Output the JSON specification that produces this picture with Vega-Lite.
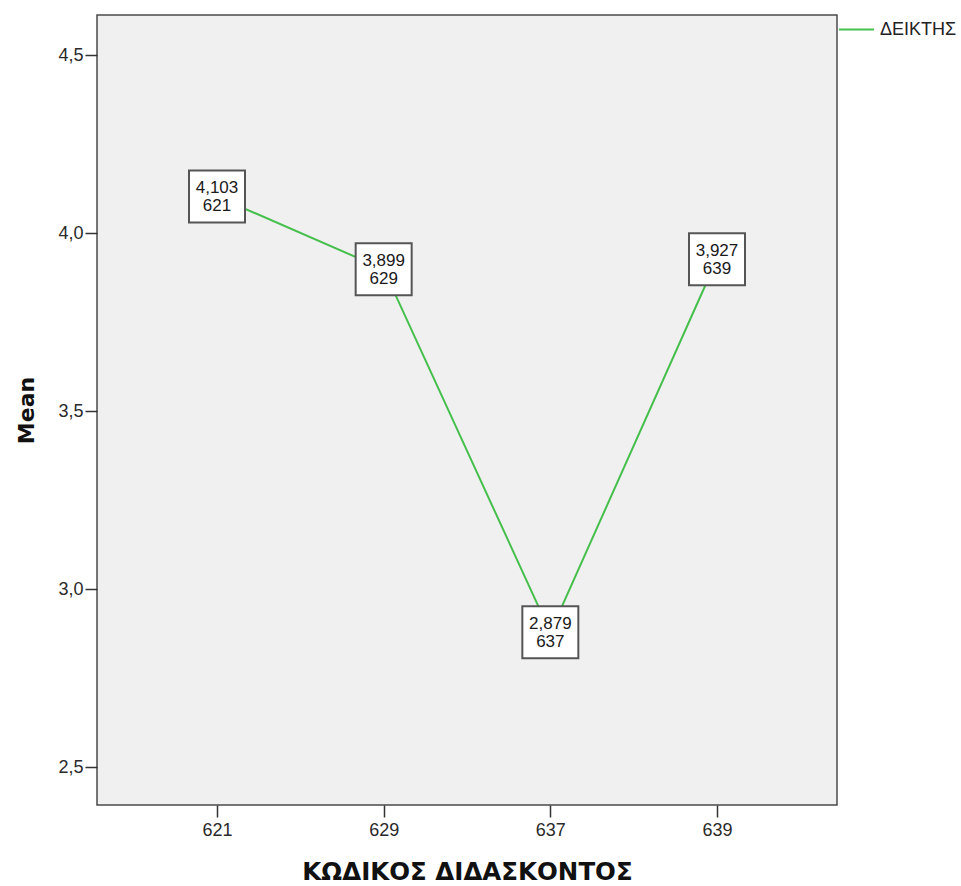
{
  "$schema": "https://vega.github.io/schema/vega-lite/v6.json",
  "autosize": {"type": "none"},
  "padding": {"left": 97, "top": 15, "right": 124, "bottom": 81},
  "width": 740,
  "height": 790,
  "background": "white",
  "config": {
    "locale": {"number": {"decimal": ",", "thousands": ".", "grouping": [3], "currency": ["", ""]}},
    "font": "Liberation Sans",
    "view": {"fill": "#f0f0f0", "stroke": "#4a4a4a", "strokeWidth": 1.5},
    "axis": {
      "grid": false,
      "domain": false,
      "ticks": true,
      "tickColor": "#333333",
      "tickWidth": 1.5,
      "tickSize": 12,
      "labelFont": "Liberation Sans",
      "labelFontSize": 18,
      "labelColor": "#2a2a2a",
      "titleFont": "DejaVu Sans",
      "titleFontSize": 22,
      "titleFontWeight": "bold",
      "titleColor": "#111111"
    }
  },
  "data": {
    "values": [
      {"code": "621", "mean": 4.103, "series": "ΔΕΙΚΤΗΣ"},
      {"code": "629", "mean": 3.899, "series": "ΔΕΙΚΤΗΣ"},
      {"code": "637", "mean": 2.879, "series": "ΔΕΙΚΤΗΣ"},
      {"code": "639", "mean": 3.927, "series": "ΔΕΙΚΤΗΣ"}
    ]
  },
  "encoding": {
    "x": {
      "field": "code",
      "type": "ordinal",
      "sort": null,
      "scale": {"type": "point", "padding": 0.72},
      "axis": {"title": "ΚΩΔΙΚΟΣ ΔΙΔΑΣΚΟΝΤΟΣ", "labelAngle": 0, "labelPadding": 4, "titlePadding": 21, "titleFontSize": 24.5}
    },
    "y": {
      "field": "mean",
      "type": "quantitative",
      "scale": {"domain": [2.394, 4.613], "nice": false, "zero": false},
      "axis": {"title": "Mean", "values": [2.5, 3, 3.5, 4, 4.5], "format": ".1f", "labelPadding": 2, "titlePadding": 19}
    }
  },
  "layer": [
    {
      "mark": {"type": "line", "strokeWidth": 2},
      "encoding": {
        "color": {
          "field": "series",
          "type": "nominal",
          "scale": {"range": ["#46bf4c"]},
          "legend": {
            "title": null,
            "orient": "right",
            "offset": 5,
            "padding": -4,
            "symbolType": "stroke",
            "symbolSize": 1225,
            "symbolStrokeWidth": 2,
            "labelFont": "Liberation Sans",
            "labelFontSize": 18,
            "labelColor": "#222222",
            "labelOffset": 5
          }
        }
      }
    },
    {
      "mark": {
        "type": "point",
        "shape": "M-1,-0.93H1V0.93H-1Z",
        "size": 3136,
        "filled": true,
        "fill": "white",
        "stroke": "#555555",
        "strokeWidth": 2,
        "opacity": 1
      }
    },
    {
      "mark": {"type": "text", "dy": -8.5, "fontSize": 17, "color": "#1a1a1a", "font": "Liberation Sans"},
      "encoding": {"text": {"field": "mean", "type": "quantitative", "format": ".3f"}}
    },
    {
      "mark": {"type": "text", "dy": 9.5, "fontSize": 17, "color": "#1a1a1a", "font": "Liberation Sans"},
      "encoding": {"text": {"field": "code", "type": "nominal"}}
    }
  ]
}
